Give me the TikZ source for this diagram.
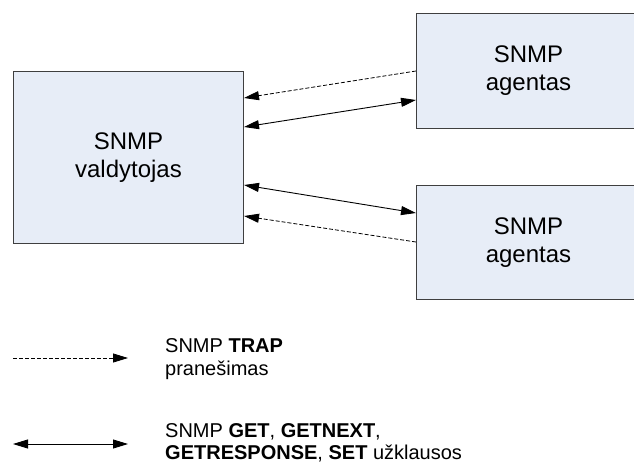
\documentclass[tikz,border=0pt]{standalone}
\usepackage{fontspec}
\setmainfont{Liberation Sans}
\usetikzlibrary{arrows.meta}
\definecolor{boxfill}{HTML}{E7EDF7}
\definecolor{boxline}{HTML}{3F3F3F}
\begin{document}
\begin{tikzpicture}[x=1pt,y=-1pt,
  box/.style={draw=boxline, fill=boxfill, line width=1pt, anchor=north west, inner sep=0pt, align=center, font=\fontsize{24}{28}\selectfont},
  tip/.style={-{Triangle[length=15pt,width=9pt]}},
  both/.style={{Triangle[length=15pt,width=9pt]}-{Triangle[length=15pt,width=9pt]}, line width=0.9pt},
  trap/.style={tip, dash pattern=on 4pt off 2pt, line width=0.8pt},
  legend/.style={anchor=base west, inner sep=0pt, font=\fontsize{20}{23}\selectfont}]
\useasboundingbox (0,0) rectangle (634,464);
\begin{scope}
\clip (0,0) rectangle (634,464);
\node[box, minimum width=230pt, minimum height=172pt] (m) at (13,71) {SNMP\\valdytojas};
\node[box, minimum width=224pt, minimum height=115pt] (a1) at (416,13) {SNMP\\agentas};
\node[box, minimum width=224pt, minimum height=114pt] (a2) at (416,185) {SNMP\\agentas};
\end{scope}
\draw[trap] ([yshift=-58pt]a1.north west) -- ([yshift=-27pt]m.north east);
\draw[both] ([yshift=-56pt]m.north east) -- ([yshift=-87pt]a1.north west);
\draw[both] ([yshift=-114pt]m.north east) -- ([yshift=-28pt]a2.north west);
\draw[trap] ([yshift=-57pt]a2.north west) -- ([yshift=-145pt]m.north east);
% legend
\coordinate (t1) at (13,358);
\coordinate (t2) at (128,358);
\coordinate (g1) at (13,444);
\coordinate (g2) at (128,444);
\draw[trap] (t1) -- (t2);
\draw[both] (g1) -- (g2);
\node[legend] (l1) at (165,352) {SNMP \textbf{TRAP}};
\node[legend] (l2) at (165,375) {pranešimas};
\node[legend] (l3) at (165,437) {SNMP \textbf{GET}, \textbf{GETNEXT},};
\node[legend] (l4) at (165,459) {\textbf{GETRESPONSE}, \textbf{SET} užklausos};
\end{tikzpicture}
\end{document}
